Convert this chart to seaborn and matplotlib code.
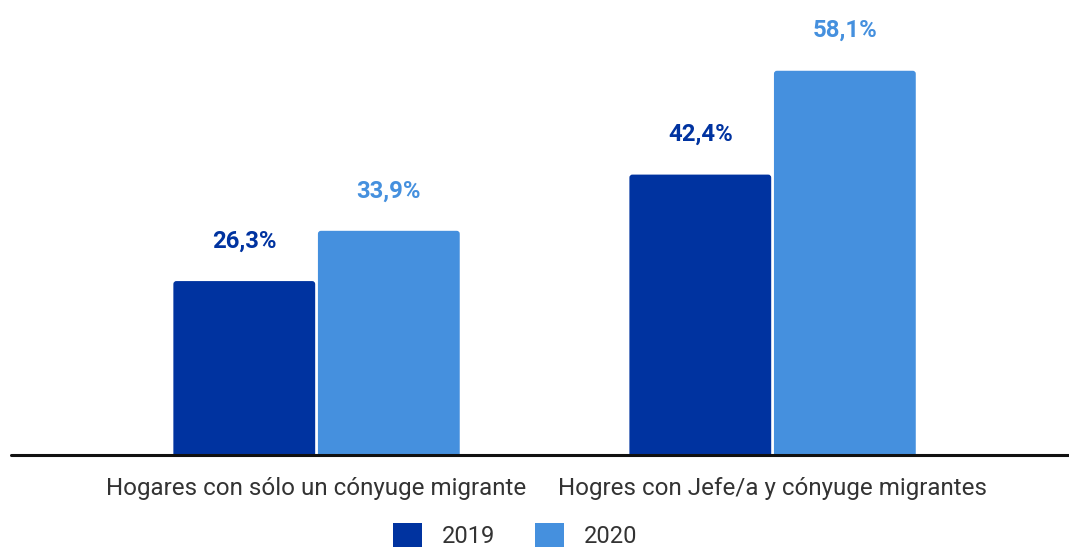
import matplotlib
matplotlib.use("Agg")
import matplotlib.pyplot as plt
from matplotlib.patches import FancyBboxPatch, Patch
import seaborn as sns
import pandas as pd

categories = ["Hogares con sólo un cónyuge migrante", "Hogres con Jefe/a y cónyuge migrantes"]
years = ["2019", "2020"]
values_2019 = [26.3, 42.4]
values_2020 = [33.9, 58.1]
colors = {"2019": "#0033a0", "2020": "#4590de"}

df = pd.DataFrame({
    "categoria": categories * 2,
    "anio": [years[0]] * 2 + [years[1]] * 2,
    "valor": values_2019 + values_2020,
})

sns.set_theme(style="white")
plt.rcParams["font.family"] = ["Roboto", "DejaVu Sans"]

fig = plt.figure(figsize=(10.69, 5.5), dpi=100)
ax = fig.add_axes([0.0103, 0.1727, 0.9897, 0.8273])

sns.barplot(data=df, x="categoria", y="valor", hue="anio", palette=colors,
            saturation=1, width=0.634, gap=0.019, ax=ax, legend=False,
            errorbar=None)

ax.set_xlim(-0.67, 1.65)
ax.set_ylim(0, 68.8)

# px-per-unit ratio used to keep the corner rounding circular
bbox = ax.get_window_extent()
xu = (ax.get_xlim()[1] - ax.get_xlim()[0]) / bbox.width
yu = (ax.get_ylim()[1] - ax.get_ylim()[0]) / bbox.height
r_px = 3.0

bars = list(ax.patches)
for p in bars:
    x, y = p.get_x(), p.get_y()
    w, h = p.get_width(), p.get_height()
    col = p.get_facecolor()
    p.set_visible(False)
    rb = FancyBboxPatch((x, y - 2 * r_px * yu), w, h + 2 * r_px * yu,
                        boxstyle=f"round,pad=0,rounding_size={r_px * xu}",
                        mutation_aspect=yu / xu, facecolor=col,
                        edgecolor="none", clip_on=True)
    ax.add_patch(rb)
    label = f"{h:.1f}".replace(".", ",") + "%"
    ax.text(x + w / 2, h + 40 * yu, label, ha="center", va="center",
            fontsize=17.2, fontweight="bold", color=col)

ax.axhline(0, color="#111111", linewidth=2.2, zorder=5, clip_on=False)
sns.despine(ax=ax, left=True, top=True, right=True, bottom=True)
ax.set_yticks([])
ax.set_xlabel("")
ax.set_ylabel("")
ax.tick_params(axis="x", length=0, pad=16, labelsize=17.4, labelcolor="#333333")

handles = [Patch(facecolor=colors[yy], edgecolor="none", label=yy) for yy in years]
fig.legend(handles=handles, loc="center", bbox_to_anchor=(0.482, 0.026), ncol=2,
           frameon=False, fontsize=17, handlelength=1.2, handleheight=1.2,
           handletextpad=0.85, columnspacing=1.7, labelcolor="#333333")

fig.savefig("out.png", dpi=100)
